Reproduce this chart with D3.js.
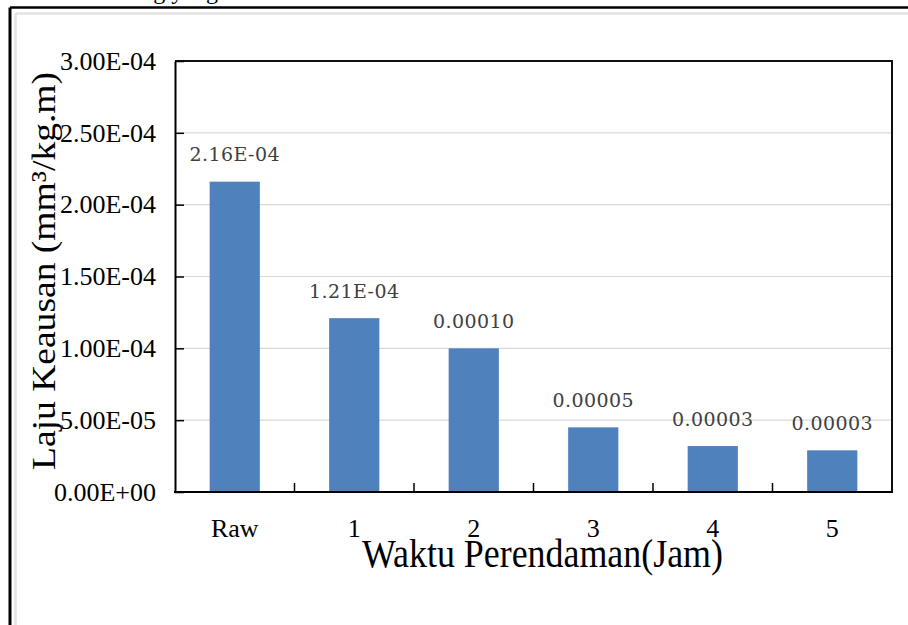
<!DOCTYPE html>
<html>
<head>
<meta charset="utf-8">
<script src="https://cdn.jsdelivr.net/npm/d3@7"></script>
<style>
  html, body { margin: 0; padding: 0; background: #ffffff; }
  svg { display: block; }
</style>
</head>
<body>
<svg id="chart" width="908" height="625"></svg>
<script>
// ---- data ----
const categories = ["Raw", "1", "2", "3", "4", "5"];
const values = [2.16e-4, 1.21e-4, 1.00e-4, 4.5e-5, 3.2e-5, 2.9e-5];
const valueLabels = ["2.16E-04", "1.21E-04", "0.00010", "0.00005", "0.00003", "0.00003"];
const yTicks = [0, 5e-5, 1e-4, 1.5e-4, 2e-4, 2.5e-4, 3e-4];
const yTickLabels = ["0.00E+00", "5.00E-05", "1.00E-04", "1.50E-04", "2.00E-04", "2.50E-04", "3.00E-04"];
const xTitle = "Waktu Perendaman(Jam)";
const yTitle = "Laju Keausan (mm³/kg.m)";
const topText = "berulang yang";

// ---- layout ----
const svg = d3.select("#chart");
const plot = { left: 175, right: 892, top: 61, bottom: 492 };
const serif = "'Liberation Serif', 'Times New Roman', serif";

// outer page frame
svg.append("rect").attr("x", 0).attr("y", 0).attr("width", 908).attr("height", 625).attr("fill", "#fff");
svg.append("text").attr("x", 218).attr("y", -1).attr("text-anchor", "end")
  .attr("font-family", serif).attr("font-size", 24).attr("fill", "#000").text(topText);
svg.append("line").attr("x1", 10).attr("x2", 908).attr("y1", 7.5).attr("y2", 7.5)
  .attr("stroke", "#000").attr("stroke-width", 2.5);
svg.append("line").attr("x1", 10).attr("x2", 10).attr("y1", 7.5).attr("y2", 625)
  .attr("stroke", "#000").attr("stroke-width", 3);
svg.append("line").attr("x1", 15.5).attr("x2", 908).attr("y1", 13.5).attr("y2", 13.5)
  .attr("stroke", "#e2e2e2").attr("stroke-width", 2.5);
svg.append("line").attr("x1", 15.5).attr("x2", 15.5).attr("y1", 13.5).attr("y2", 625)
  .attr("stroke", "#e2e2e2").attr("stroke-width", 2.5);

// ---- scales ----
const x = d3.scaleBand().domain(categories).range([plot.left, plot.right])
  .paddingInner(0.58).paddingOuter(0.29);
const y = d3.scaleLinear().domain([0, 3e-4]).range([plot.bottom, plot.top]);

// gridlines
svg.append("g").selectAll("line").data(yTicks.slice(1, -1)).join("line")
  .attr("x1", plot.left).attr("x2", plot.right)
  .attr("y1", d => y(d)).attr("y2", d => y(d))
  .attr("stroke", "#d9d9d9").attr("stroke-width", 1.2);

// bars
svg.append("g").selectAll("rect").data(values).join("rect")
  .attr("x", (d, i) => x(categories[i]))
  .attr("width", x.bandwidth())
  .attr("y", d => y(d))
  .attr("height", d => y(0) - y(d))
  .attr("fill", "#4f81bd");

// value labels
svg.append("g").selectAll("text").data(values).join("text")
  .attr("x", (d, i) => x(categories[i]) + x.bandwidth() / 2)
  .attr("y", d => y(d) - 20.5)
  .attr("text-anchor", "middle")
  .attr("font-family", "'DejaVu Serif', serif")
  .attr("font-size", 19)
  .attr("letter-spacing", 0.4)
  .attr("fill", "#404040")
  .text((d, i) => valueLabels[i]);

// plot frame (top & right)
svg.append("path")
  .attr("d", `M${plot.left},${plot.top}H${plot.right}V${plot.bottom}`)
  .attr("fill", "none").attr("stroke", "#111").attr("stroke-width", 2);

// y axis
const yAxis = d3.axisLeft(y).tickValues(yTicks)
  .tickFormat((d, i) => yTickLabels[i])
  .tickSizeInner(-9).tickSizeOuter(0).tickPadding(19);
const gy = svg.append("g").attr("transform", `translate(${plot.left},0)`).call(yAxis);
gy.select(".domain").attr("stroke", "#000").attr("stroke-width", 2);
gy.selectAll(".tick line").attr("stroke", "#000").attr("stroke-width", 1.5);
gy.selectAll(".tick text").attr("font-family", serif).attr("font-size", 26).attr("fill", "#000");

// x axis (ticks between categories pointing up)
const boundaries = categories.slice(1).map(c => x(c) - x.step() * x.paddingInner() / 2);
svg.append("line").attr("x1", plot.left - 1).attr("x2", plot.right + 1)
  .attr("y1", plot.bottom).attr("y2", plot.bottom)
  .attr("stroke", "#000").attr("stroke-width", 2);
svg.append("g").selectAll("line").data(boundaries).join("line")
  .attr("x1", d => d).attr("x2", d => d)
  .attr("y1", plot.bottom).attr("y2", plot.bottom - 9)
  .attr("stroke", "#000").attr("stroke-width", 1.5);
svg.append("g").selectAll("text").data(categories).join("text")
  .attr("x", d => x(d) + x.bandwidth() / 2)
  .attr("y", 537)
  .attr("text-anchor", "middle")
  .attr("font-family", serif).attr("font-size", 26).attr("fill", "#000")
  .text(d => d);

// axis titles
svg.append("text")
  .attr("x", 542.5).attr("y", 567)
  .attr("text-anchor", "middle")
  .attr("font-family", serif).attr("font-size", 40).attr("fill", "#000")
  .attr("textLength", 361).attr("lengthAdjust", "spacingAndGlyphs")
  .text(xTitle);
svg.append("text")
  .attr("transform", "translate(55,271) rotate(-90)")
  .attr("text-anchor", "middle")
  .attr("font-family", serif).attr("font-size", 34).attr("fill", "#000")
  .attr("textLength", 398).attr("lengthAdjust", "spacingAndGlyphs")
  .text(yTitle);
</script>
</body>
</html>
